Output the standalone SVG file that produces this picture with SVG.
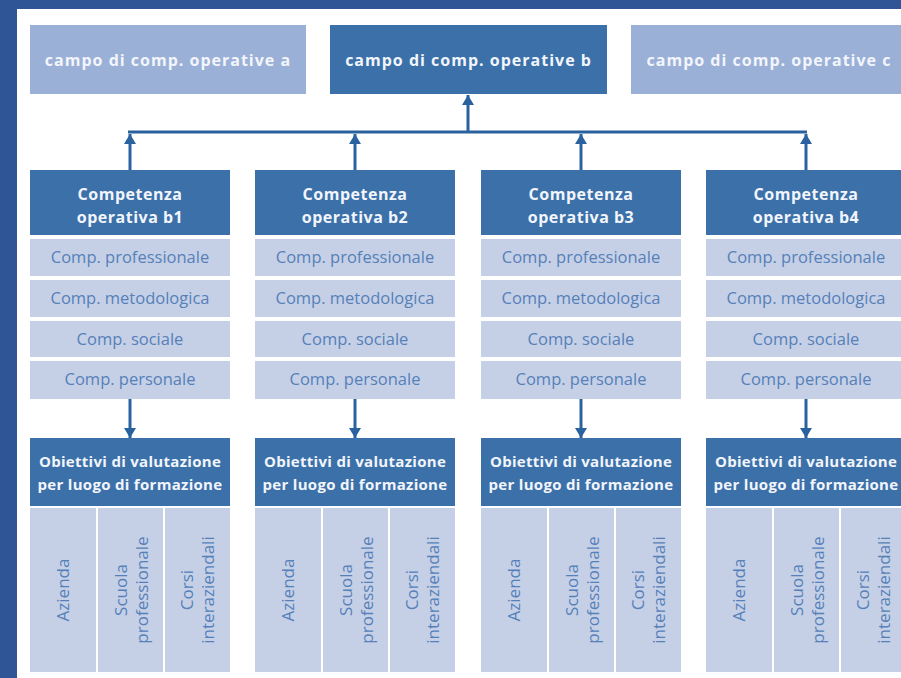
<svg xmlns="http://www.w3.org/2000/svg" width="901" height="678" viewBox="0 0 901 678">
<defs>
<style>
.frame{fill:#2f5597}
.top-light{fill:#9bb0d6}
.top-dark{fill:#3b70a9}
.head{fill:#3b70a9}
.cell{fill:#c5d0e7}
.wt{font-family:"Open Sans","Noto Sans",sans-serif;font-weight:bold;fill:#f2f5fb;text-anchor:middle}
.t-top{font-size:16px;letter-spacing:1px}
.t-comp{font-size:16px;letter-spacing:0.5px}
.t-obj{font-size:15px;letter-spacing:0.3px}
.rt{font-family:"Open Sans","Noto Sans",sans-serif;font-size:16.5px;fill:#5680b8;text-anchor:middle}
.vt{font-size:17px}
.conn{stroke:#2a62a0;stroke-width:3;fill:none}
</style>
<marker id="ah" viewBox="0 0 10 12" refX="10" refY="6" markerWidth="10" markerHeight="12" markerUnits="userSpaceOnUse" orient="auto">
<path d="M0,0 L10,6 L0,12 Z" fill="#2a62a0"/>
</marker>
</defs>
<rect width="901" height="678" fill="#ffffff"/>
<rect class="frame" x="0" y="0" width="901" height="9"/>
<rect class="frame" x="0" y="0" width="17" height="678"/>

<g id="campo-a"><rect class="top-light" x="30" y="25" width="276" height="69"/><text class="wt t-top" x="168" y="66">campo di comp. operative a</text></g>
<g id="campo-b"><rect class="top-dark" x="330" y="25" width="277" height="69"/><text class="wt t-top" x="468.5" y="66">campo di comp. operative b</text></g>
<g id="campo-c"><rect class="top-light" x="631" y="25" width="290" height="69"/><text class="wt t-top" x="769" y="66">campo di comp. operative c</text></g>

<g id="connectors">
<line class="conn" x1="128" y1="132" x2="807" y2="132"/>
<line class="conn" x1="468" y1="132" x2="468" y2="95" marker-end="url(#ah)"/>
<line class="conn" x1="130" y1="170" x2="130" y2="134" marker-end="url(#ah)"/>
<line class="conn" x1="355" y1="170" x2="355" y2="134" marker-end="url(#ah)"/>
<line class="conn" x1="581" y1="170" x2="581" y2="134" marker-end="url(#ah)"/>
<line class="conn" x1="806" y1="170" x2="806" y2="134" marker-end="url(#ah)"/>
<line class="conn" x1="130" y1="399" x2="130" y2="438" marker-end="url(#ah)"/>
<line class="conn" x1="355" y1="399" x2="355" y2="438" marker-end="url(#ah)"/>
<line class="conn" x1="581" y1="399" x2="581" y2="438" marker-end="url(#ah)"/>
<line class="conn" x1="806" y1="399" x2="806" y2="438" marker-end="url(#ah)"/>
</g>

<g id="col-b1" transform="translate(30,0)">
<g id="comp-b1"><rect class="head" x="0" y="170" width="200" height="65"/><text class="wt t-comp" x="100" y="200">Competenza</text><text class="wt t-comp" x="100" y="223">operativa b1</text></g>
<g id="b1-prof"><rect class="cell" x="0" y="239" width="200" height="37"/><text class="rt" x="100" y="263">Comp. professionale</text></g>
<g id="b1-met"><rect class="cell" x="0" y="280" width="200" height="37"/><text class="rt" x="100" y="304">Comp. metodologica</text></g>
<g id="b1-soc"><rect class="cell" x="0" y="321" width="200" height="36"/><text class="rt" x="100" y="345">Comp. sociale</text></g>
<g id="b1-pers"><rect class="cell" x="0" y="361" width="200" height="38"/><text class="rt" x="100" y="385">Comp. personale</text></g>
<g id="obj-b1"><rect class="head" x="0" y="438" width="200" height="68"/><text class="wt t-obj" x="100" y="467">Obiettivi di valutazione</text><text class="wt t-obj" x="100" y="490">per luogo di formazione</text></g>
<g id="b1-az"><rect class="cell" x="0" y="508" width="66" height="164"/><text class="rt vt" transform="translate(39,590) rotate(-90)">Azienda</text></g>
<g id="b1-sc"><rect class="cell" x="68" y="508" width="65" height="164"/><text class="rt vt" transform="translate(97,590) rotate(-90)"><tspan x="0" y="0">Scuola</tspan><tspan x="0" y="21">professionale</tspan></text></g>
<g id="b1-ci"><rect class="cell" x="135" y="508" width="65" height="164"/><text class="rt vt" transform="translate(163,590) rotate(-90)"><tspan x="0" y="0">Corsi</tspan><tspan x="0" y="21">interaziendali</tspan></text></g>
</g>

<g id="col-b2" transform="translate(255,0)">
<g id="comp-b2"><rect class="head" x="0" y="170" width="200" height="65"/><text class="wt t-comp" x="100" y="200">Competenza</text><text class="wt t-comp" x="100" y="223">operativa b2</text></g>
<g id="b2-prof"><rect class="cell" x="0" y="239" width="200" height="37"/><text class="rt" x="100" y="263">Comp. professionale</text></g>
<g id="b2-met"><rect class="cell" x="0" y="280" width="200" height="37"/><text class="rt" x="100" y="304">Comp. metodologica</text></g>
<g id="b2-soc"><rect class="cell" x="0" y="321" width="200" height="36"/><text class="rt" x="100" y="345">Comp. sociale</text></g>
<g id="b2-pers"><rect class="cell" x="0" y="361" width="200" height="38"/><text class="rt" x="100" y="385">Comp. personale</text></g>
<g id="obj-b2"><rect class="head" x="0" y="438" width="200" height="68"/><text class="wt t-obj" x="100" y="467">Obiettivi di valutazione</text><text class="wt t-obj" x="100" y="490">per luogo di formazione</text></g>
<g id="b2-az"><rect class="cell" x="0" y="508" width="66" height="164"/><text class="rt vt" transform="translate(39,590) rotate(-90)">Azienda</text></g>
<g id="b2-sc"><rect class="cell" x="68" y="508" width="65" height="164"/><text class="rt vt" transform="translate(97,590) rotate(-90)"><tspan x="0" y="0">Scuola</tspan><tspan x="0" y="21">professionale</tspan></text></g>
<g id="b2-ci"><rect class="cell" x="135" y="508" width="65" height="164"/><text class="rt vt" transform="translate(163,590) rotate(-90)"><tspan x="0" y="0">Corsi</tspan><tspan x="0" y="21">interaziendali</tspan></text></g>
</g>

<g id="col-b3" transform="translate(481,0)">
<g id="comp-b3"><rect class="head" x="0" y="170" width="200" height="65"/><text class="wt t-comp" x="100" y="200">Competenza</text><text class="wt t-comp" x="100" y="223">operativa b3</text></g>
<g id="b3-prof"><rect class="cell" x="0" y="239" width="200" height="37"/><text class="rt" x="100" y="263">Comp. professionale</text></g>
<g id="b3-met"><rect class="cell" x="0" y="280" width="200" height="37"/><text class="rt" x="100" y="304">Comp. metodologica</text></g>
<g id="b3-soc"><rect class="cell" x="0" y="321" width="200" height="36"/><text class="rt" x="100" y="345">Comp. sociale</text></g>
<g id="b3-pers"><rect class="cell" x="0" y="361" width="200" height="38"/><text class="rt" x="100" y="385">Comp. personale</text></g>
<g id="obj-b3"><rect class="head" x="0" y="438" width="200" height="68"/><text class="wt t-obj" x="100" y="467">Obiettivi di valutazione</text><text class="wt t-obj" x="100" y="490">per luogo di formazione</text></g>
<g id="b3-az"><rect class="cell" x="0" y="508" width="66" height="164"/><text class="rt vt" transform="translate(39,590) rotate(-90)">Azienda</text></g>
<g id="b3-sc"><rect class="cell" x="68" y="508" width="65" height="164"/><text class="rt vt" transform="translate(97,590) rotate(-90)"><tspan x="0" y="0">Scuola</tspan><tspan x="0" y="21">professionale</tspan></text></g>
<g id="b3-ci"><rect class="cell" x="135" y="508" width="65" height="164"/><text class="rt vt" transform="translate(163,590) rotate(-90)"><tspan x="0" y="0">Corsi</tspan><tspan x="0" y="21">interaziendali</tspan></text></g>
</g>

<g id="col-b4" transform="translate(706,0)">
<g id="comp-b4"><rect class="head" x="0" y="170" width="200" height="65"/><text class="wt t-comp" x="100" y="200">Competenza</text><text class="wt t-comp" x="100" y="223">operativa b4</text></g>
<g id="b4-prof"><rect class="cell" x="0" y="239" width="200" height="37"/><text class="rt" x="100" y="263">Comp. professionale</text></g>
<g id="b4-met"><rect class="cell" x="0" y="280" width="200" height="37"/><text class="rt" x="100" y="304">Comp. metodologica</text></g>
<g id="b4-soc"><rect class="cell" x="0" y="321" width="200" height="36"/><text class="rt" x="100" y="345">Comp. sociale</text></g>
<g id="b4-pers"><rect class="cell" x="0" y="361" width="200" height="38"/><text class="rt" x="100" y="385">Comp. personale</text></g>
<g id="obj-b4"><rect class="head" x="0" y="438" width="200" height="68"/><text class="wt t-obj" x="100" y="467">Obiettivi di valutazione</text><text class="wt t-obj" x="100" y="490">per luogo di formazione</text></g>
<g id="b4-az"><rect class="cell" x="0" y="508" width="66" height="164"/><text class="rt vt" transform="translate(39,590) rotate(-90)">Azienda</text></g>
<g id="b4-sc"><rect class="cell" x="68" y="508" width="65" height="164"/><text class="rt vt" transform="translate(97,590) rotate(-90)"><tspan x="0" y="0">Scuola</tspan><tspan x="0" y="21">professionale</tspan></text></g>
<g id="b4-ci"><rect class="cell" x="135" y="508" width="65" height="164"/><text class="rt vt" transform="translate(163,590) rotate(-90)"><tspan x="0" y="0">Corsi</tspan><tspan x="0" y="21">interaziendali</tspan></text></g>
</g>
</svg>
